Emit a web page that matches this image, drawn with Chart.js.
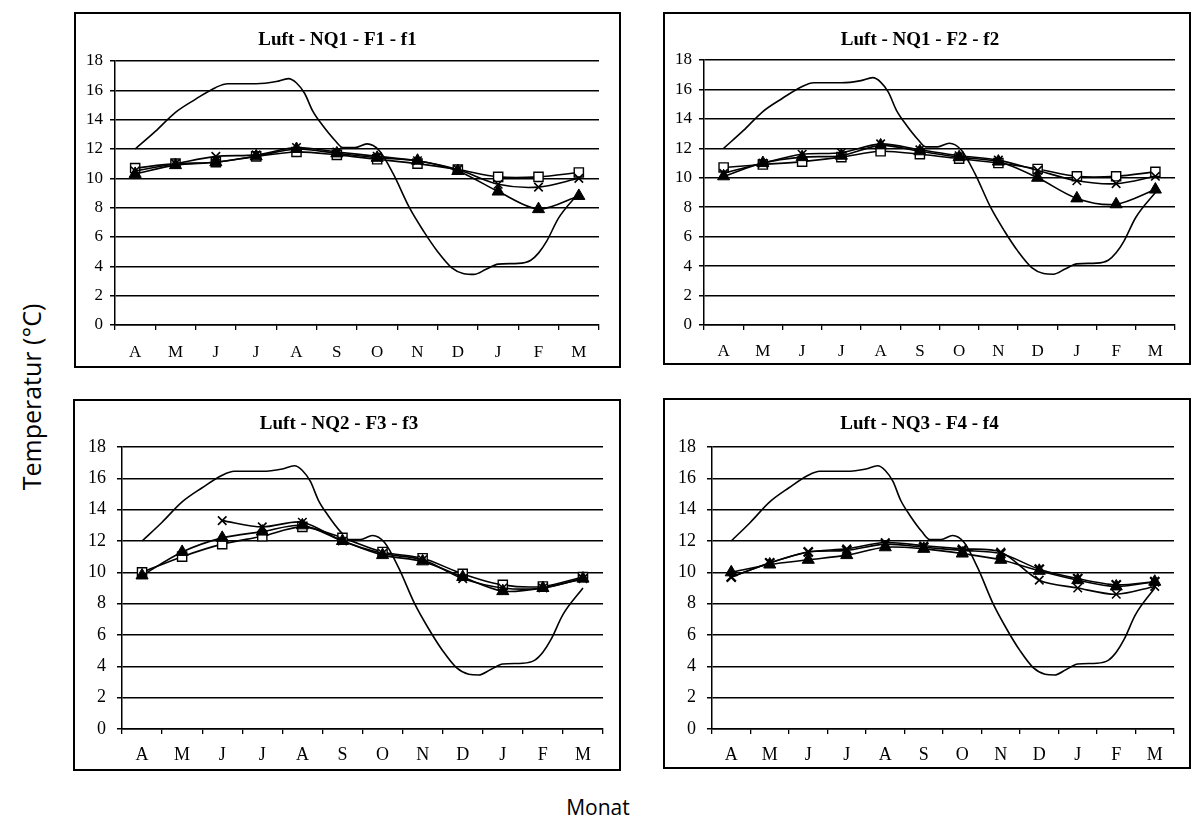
<!DOCTYPE html>
<html>
<head>
<meta charset="utf-8">
<script src="https://cdn.jsdelivr.net/npm/chart.js@4.4.1/dist/chart.umd.min.js"></script>
<style>
  html, body { margin: 0; padding: 0; background: #fff; }
  #page { position: relative; width: 1192px; height: 829px; overflow: hidden; }
  .panel { position: absolute; border: 2px solid #000; box-sizing: border-box; }
  .panel canvas { display: block; }
  .axis-title { position: absolute; font-family: "Open Sans", "Noto Sans", sans-serif; color: #000; white-space: nowrap; }
</style>
</head>
<body>
<div id="page">
  <div class="axis-title" id="ytitle">Temperatur (°C)</div>
  <div class="axis-title" id="xtitle">Monat</div>
</div>
<script>
// Hydrological year, April .. March
const MONTHS = ['A', 'M', 'J', 'J', 'A', 'S', 'O', 'N', 'D', 'J', 'F', 'M'];

// Air temperature (same curve in every panel), x = month index, fractional
const LUFT_X = [0, 0.5, 1, 1.5, 2, 2.3, 3, 3.5, 3.8, 4.0, 4.2, 4.4, 4.65, 4.95, 5.15, 5.45, 5.75,
  6.05, 6.4, 6.8, 7.15, 7.5, 7.85, 8.15, 8.4, 8.7, 9.0, 9.5, 9.8, 10.0, 10.2, 10.5, 11.0];
const LUFT_Y = [12.0, 13.2, 14.5, 15.4, 16.2, 16.45, 16.45, 16.6, 16.8, 16.5, 15.8, 14.6, 13.6, 12.6, 12.1, 12.1, 12.35,
  11.9, 10.3, 8.0, 6.4, 5.0, 3.9, 3.5, 3.45, 3.8, 4.15, 4.2, 4.4, 4.9, 5.7, 7.3, 9.0];

// NQ1 - F1 - f1
const P1_SQUARE   = [10.7, 11.0, 11.1, 11.5, 11.8, 11.6, 11.3, 11.0, 10.6, 10.1, 10.1, 10.4];
const P1_CROSS    = [10.5, 11.0, 11.5, 11.6, 12.1, 11.8, 11.5, 11.2, 10.6, 9.6, 9.4, 10.0];
const P1_TRIANGLE = [10.3, 10.9, 11.1, 11.5, 12.0, 11.7, 11.4, 11.2, 10.5, 9.1, 7.9, 8.8];

// NQ1 - F2 - f2
const P2_SQUARE   = [10.7, 10.9, 11.1, 11.4, 11.8, 11.6, 11.3, 11.0, 10.6, 10.1, 10.1, 10.4];
const P2_CROSS    = [10.3, 11.0, 11.6, 11.7, 12.3, 11.9, 11.5, 11.2, 10.5, 9.8, 9.6, 10.1];
const P2_TRIANGLE = [10.1, 11.0, 11.4, 11.5, 12.2, 11.8, 11.4, 11.1, 10.0, 8.6, 8.2, 9.2];

// NQ2 - F3 - f3
const P3_SQUARE   = [10.0, 11.0, 11.8, 12.3, 12.9, 12.2, 11.3, 10.9, 9.9, 9.2, 9.1, 9.7];
const P3_CROSS    = [null, null, 13.3, 12.9, 13.2, 12.0, 11.2, 10.8, 9.6, 9.0, 9.0, 9.6];
const P3_TRIANGLE = [9.8, 11.3, 12.2, 12.6, 13.0, 12.0, 11.1, 10.7, 9.7, 8.8, 9.0, 9.6];

// NQ3 - F4 - f4
const P4_STAR     = [9.7, 10.6, 11.3, 11.4, 11.8, 11.6, 11.4, 11.2, 10.2, 9.6, 9.2, 9.4];
const P4_CROSS    = [9.7, 10.6, 11.3, 11.5, 11.9, 11.7, 11.5, 11.3, 9.5, 9.0, 8.6, 9.1];
const P4_TRIANGLE = [10.0, 10.5, 10.8, 11.1, 11.6, 11.5, 11.2, 10.8, 10.1, 9.5, 9.1, 9.4];

const Y_MIN = 0, Y_MAX = 18, Y_STEP = 2;

const SERIF = '"Liberation Serif", "Times New Roman", serif';

const marker = {
  square:   { pointStyle: 'rect', pointRadius: 6.5, pointBackgroundColor: '#fff', pointBorderWidth: 1.4 },
  cross:    { pointStyle: 'crossRot', pointRadius: 6, pointBackgroundColor: '#000', pointBorderWidth: 1.6 },
  star:     { pointStyle: 'crossRot', pointRadius: 6.5, pointBackgroundColor: '#000', pointBorderWidth: 2.2 },
  triangle: { pointStyle: 'triangle', pointRadius: 7, pointBackgroundColor: '#000', pointBorderWidth: 1 },
};

// box = outer border rectangle; yw = y-axis width; right = right padding; top/bottom = room around the plot
const panels = [
  { title: 'Luft - NQ1 - F1 - f1', box: [74, 12, 547, 356], yw: 39, right: 20, top: 47, bottom: 41, font: 17, tpad: 7, xpad: 12, tTop: 15,
    series: [['square', P1_SQUARE], ['cross', P1_CROSS], ['triangle', P1_TRIANGLE]] },
  { title: 'Luft - NQ1 - F2 - f2', box: [663, 12, 528, 353], yw: 39, right: 14, top: 46, bottom: 38, font: 17, tpad: 7, xpad: 11, tTop: 15,
    series: [['square', P2_SQUARE], ['cross', P2_CROSS], ['triangle', P2_TRIANGLE]] },
  { title: 'Luft - NQ2 - F3 - f3', box: [73, 399, 548, 372], yw: 47, right: 16, top: 46, bottom: 40, font: 18, tpad: 11, xpad: 10, tTop: 12,
    series: [['square', P3_SQUARE], ['cross', P3_CROSS], ['triangle', P3_TRIANGLE]] },
  { title: 'Luft - NQ3 - F4 - f4', box: [663, 398, 528, 371], yw: 47, right: 15, top: 47, bottom: 38, font: 18, tpad: 11, xpad: 10, tTop: 13,
    series: [['star', P4_STAR], ['cross', P4_CROSS], ['triangle', P4_TRIANGLE]] },
];

const TITLE_SIZE = 19;
const page = document.getElementById('page');

panels.forEach((p) => {
  const [left, top, w, h] = p.box;
  const div = document.createElement('div');
  div.className = 'panel';
  Object.assign(div.style, { left: left + 'px', top: top + 'px', width: w + 'px', height: h + 'px' });
  const canvas = document.createElement('canvas');
  canvas.width = w - 4;
  canvas.height = h - 4;
  div.appendChild(canvas);
  page.appendChild(div);

  const datasets = p.series.map(([kind, values], i) => ({
    label: kind,
    data: values,
    xAxisID: 'x',
    borderColor: '#000',
    borderWidth: 1.6,
    pointBorderColor: '#000',
    tension: 0.3,
    order: 3 - i,
    ...marker[kind],
  }));
  datasets.push({
    label: 'Luft',
    data: LUFT_X.map((x, i) => ({ x, y: LUFT_Y[i] })),
    xAxisID: 'xl',
    borderColor: '#000',
    borderWidth: 1.6,
    pointRadius: 0,
    cubicInterpolationMode: 'monotone',
    order: 5,
  });

  const titleH = TITLE_SIZE * 1.2;

  new Chart(canvas, {
    type: 'line',
    data: { labels: MONTHS, datasets },
    options: {
      responsive: false,
      animation: false,
      layout: { padding: { left: 0, right: p.right, top: 0, bottom: 0 } },
      plugins: {
        legend: { display: false },
        tooltip: { enabled: false },
        title: {
          display: true,
          text: p.title,
          color: '#000',
          font: { family: SERIF, size: TITLE_SIZE, weight: 'bold' },
          padding: { top: p.tTop, bottom: p.top - p.tTop - titleH },
        },
      },
      scales: {
        x: {
          type: 'category',
          offset: true,
          afterFit: (s) => { s.height = p.bottom; },
          grid: { offset: true, drawOnChartArea: false, drawTicks: true, tickLength: 5, color: '#000', lineWidth: 1.3 },
          border: { display: true, color: '#000', width: 1.5 },
          ticks: { color: '#000', padding: p.xpad, maxRotation: 0, autoSkip: false, font: { family: SERIF, size: p.font } },
        },
        xl: { type: 'linear', display: false, min: -0.5, max: 11.5 },
        y: {
          min: Y_MIN,
          max: Y_MAX,
          afterFit: (s) => { s.width = p.yw; },
          ticks: { stepSize: Y_STEP, color: '#000', padding: p.tpad, font: { family: SERIF, size: p.font } },
          grid: { color: '#000', lineWidth: 1.5, tickLength: 5 },
          border: { display: true, color: '#000', width: 1.5 },
        },
      },
    },
  });
});

const yt = document.getElementById('ytitle');
yt.style.fontSize = '25px';
yt.style.left = '31px';
yt.style.top = '397px';
yt.style.transform = 'translate(-50%, -50%) rotate(-90deg)';
const xt = document.getElementById('xtitle');
xt.style.fontSize = '21px';
xt.style.left = '598px';
xt.style.top = '807px';
xt.style.transform = 'translate(-50%, -50%)';
</script>
</body>
</html>
